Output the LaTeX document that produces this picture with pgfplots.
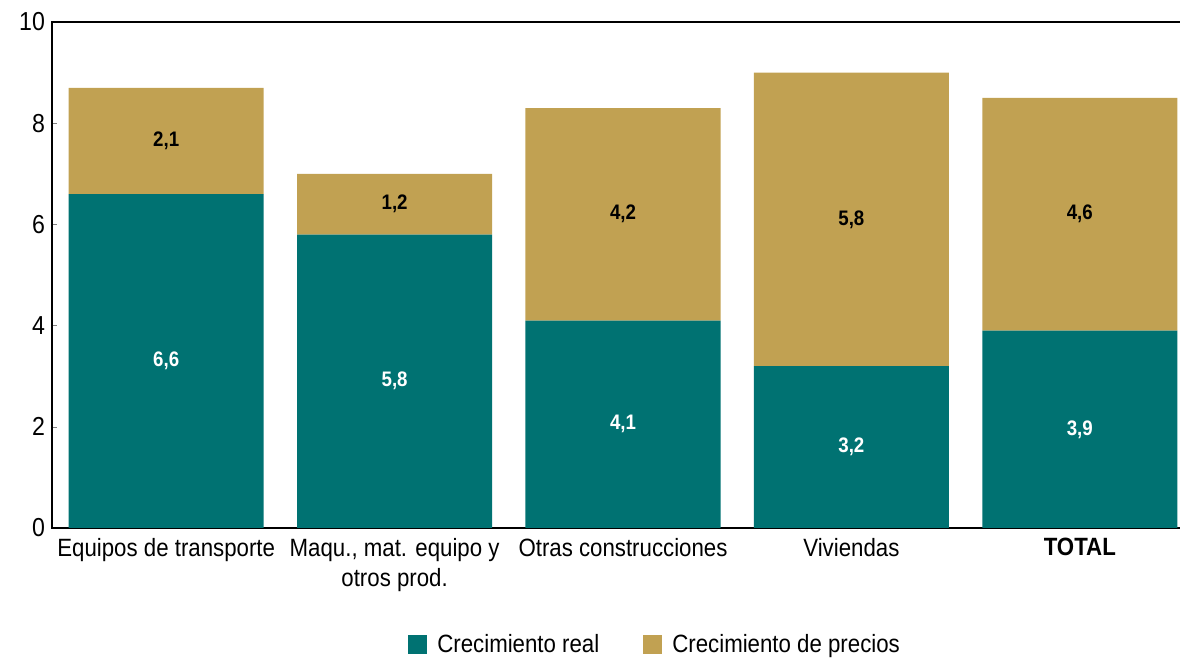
\documentclass[border=0pt]{standalone}
\usepackage{fontspec}
\setmainfont{Liberation Sans}[FakeStretch=0.89]
\usepackage{pgfplots}
\pgfplotsset{compat=1.18}
\definecolor{teal1}{RGB}{0,114,114}
\definecolor{gold1}{RGB}{193,161,82}
\begin{document}
\begin{tikzpicture}
\path[use as bounding box] (-26pt,-65pt) rectangle (564pt,264pt);
\begin{axis}[
  at={(0,0)}, anchor=south west,
  scale only axis, width=571pt, height=253pt,
  ybar stacked, bar width=97.5pt,
  xmin=-0.5, xmax=4.5, ymin=0, ymax=10,
  ytick={0,2,...,10},
  xtick={0,1,2,3,4},
  xticklabels={Equipos de transporte, {Maqu., mat. equipo y\\otros prod.}, Otras construcciones, Viviendas, \textbf{TOTAL}},
  xticklabel style={align=center, font=\fontsize{12.5}{15}\selectfont, yshift=-1.5pt},
  yticklabel style={font=\fontsize{13}{15}\selectfont},
  /pgf/number format/assume math mode=true,
  ytick pos=left, tick align=inside, major tick length=2.5pt,
  xtick style={draw=none},
  axis line style={line width=0.6pt},
  point meta=explicit,
  nodes near coords={\pgfmathprintnumber[fixed, fixed zerofill, precision=1, use comma, assume math mode=true]{\pgfplotspointmeta}},
  every node near coord/.append style={font=\bfseries\fontsize{10.5}{12}\selectfont, anchor=center},
  legend columns=2,
  legend style={at={(0.529,-0.231)}, anchor=center, draw=none, font=\fontsize{12.5}{15}\selectfont,
    /tikz/every odd column/.append style={column sep=3pt},
    /tikz/every even column/.append style={column sep=20pt}},
]
\addplot[fill=teal1, draw=none, every node near coord/.append style={text=white},
  legend image code/.code={\fill[teal1] (0pt,-4.75pt) rectangle (9.5pt,4.75pt);}]
  coordinates {(0,6.6) [6.6] (1,5.8) [5.8] (2,4.1) [4.1] (3,3.2) [3.2] (4,3.9) [3.9]};
\addplot[fill=gold1, draw=none, every node near coord/.append style={text=black},
  legend image code/.code={\fill[gold1] (0pt,-4.75pt) rectangle (9.5pt,4.75pt);}]
  coordinates {(0,2.1) [2.1] (1,1.2) [1.2] (2,4.2) [4.2] (3,5.8) [5.8] (4,4.6) [4.6]};
\legend{Crecimiento real, Crecimiento de precios}
\end{axis}
\end{tikzpicture}
\end{document}
